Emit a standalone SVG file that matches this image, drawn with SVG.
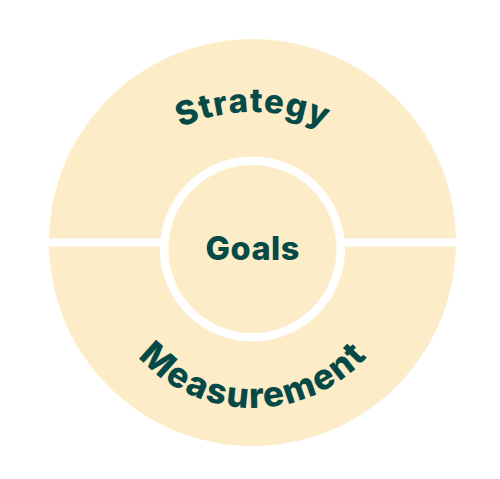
<svg xmlns="http://www.w3.org/2000/svg" xmlns:xlink="http://www.w3.org/1999/xlink" width="500" height="479" viewBox="0 0 500 479">
<style>
.lbl{font-family:Inter,"Open Sans","Liberation Sans",sans-serif;font-weight:800;fill:#064a47}
</style>
<defs>
<path id="arcTop" d="M 77.5 287 A 175 175 0 0 1 427.5 287"/>
<path id="arcBot" d="M 98.5 254 A 154 154 0 0 0 406.5 254"/>
</defs>
<rect width="500" height="479" fill="#ffffff"/>
<g id="outer">
<circle cx="252.5" cy="242.5" r="203.5" fill="#fdecc8"/>
<rect x="45" y="238.5" width="415" height="8" fill="#ffffff"/>
</g>
<g id="strategy">
<text class="lbl" font-size="33"><textPath xlink:href="#arcTop" startOffset="50%" text-anchor="middle" textLength="148" lengthAdjust="spacing">Strategy</textPath></text>
</g>
<g id="measurement">
<text class="lbl" font-size="35"><textPath xlink:href="#arcBot" startOffset="50%" text-anchor="middle" textLength="258" lengthAdjust="spacing">Measurement</textPath></text>
</g>
<g id="goals">
<circle cx="252.5" cy="249" r="88.3" fill="#fdecc8" stroke="#ffffff" stroke-width="8.5"/>
<text class="lbl" x="252.5" y="260" font-size="32.5" text-anchor="middle" textLength="94" lengthAdjust="spacing">Goals</text>
</g>
</svg>
